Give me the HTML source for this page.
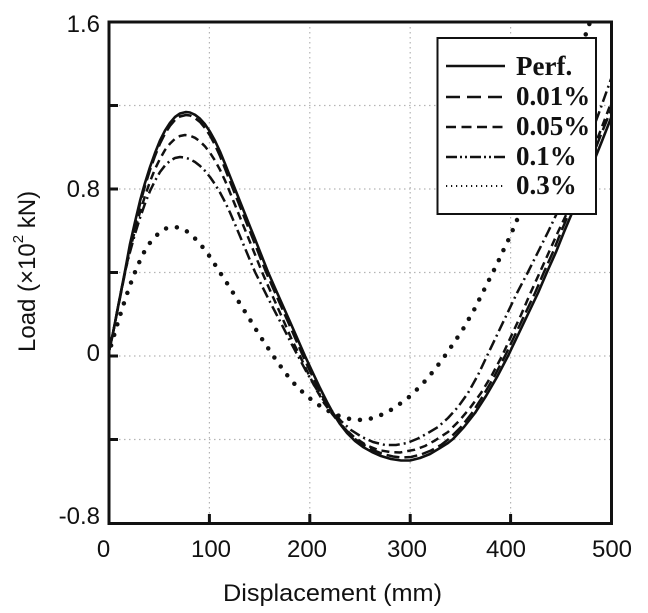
<!DOCTYPE html>
<html>
<head>
<meta charset="utf-8">
<style>
  html,body{margin:0;padding:0;background:#fff;}
  svg{display:block;}
  .tick{font-family:"Liberation Sans",Arial,sans-serif;font-size:24px;fill:#111;}
  .leg{font-family:"Liberation Serif","Times New Roman",serif;font-size:27px;font-weight:bold;fill:#111;}
</style>
</head>
<body>
<svg width="648" height="613" viewBox="0 0 648 613" xmlns="http://www.w3.org/2000/svg">
  <rect width="648" height="613" fill="#fff"/>
  <defs>
    <clipPath id="pa"><rect x="109" y="22" width="502" height="501"/></clipPath>
  </defs>

  <!-- grid -->
  <g stroke="#b4b4b4" stroke-width="1.2" stroke-dasharray="1.5 3.5" fill="none">
    <line x1="109" y1="105.5" x2="611" y2="105.5"/>
    <line x1="109" y1="189" x2="611" y2="189"/>
    <line x1="109" y1="272.5" x2="611" y2="272.5"/>
    <line x1="109" y1="356" x2="611" y2="356"/>
    <line x1="109" y1="439.5" x2="611" y2="439.5"/>
    <line x1="209.4" y1="22" x2="209.4" y2="523"/>
    <line x1="309.8" y1="22" x2="309.8" y2="523"/>
    <line x1="410.2" y1="22" x2="410.2" y2="523"/>
    <line x1="510.6" y1="22" x2="510.6" y2="523"/>
  </g>

  <g clip-path="url(#pa)" fill="none" stroke="#111" stroke-linejoin="round">
    <!-- 0.3% dotted -->
    <polyline stroke-width="4.5" stroke-linecap="round" stroke-dasharray="0 11" points="108,356 113,339 118,322 123,306 128,291 133,277 138,265 143,254 149,244 155,237 161,231 167,228 173,227 179,227.5 185,230 191,234.5 197,240.5 203,247.5 209,255.5 214,263 219,271 225,280 231,289.5 237,299 243,308.5 249,318 255,328 261,337.5 267,346.5 273,355.5 280,365.5 287,375 295,384.5 304,393.5 313,401 323,408 333,413.5 342,417 352,419.5 362,420 371,418.5 380,415.5 390,410.5 399,404.5 409,397 418,388.5 427,379 435,369 442,360 449,350 455,341 462,331 467,322 473,312 478,302 483,292 488,282 493,272 498,262 502,253 507,243 511,234 515,225 519,215 528,192 540,161 552,129 564,96 576,62 588,28 592,16"/>
    <!-- 0.1% dash-dot -->
    <polyline stroke-width="2.5" stroke-dasharray="11 4 2 4" points="108,356 113,333 118,307 125,272 130,252 135,234 140,218 145,203.6 150,191 155,180.8 160,172 165,165.5 170,160.8 175,158 180,157 185,157.6 190,159.2 195,162 200,165.9 205,170.9 210,177 215,184.2 220,192.5 225,202 230,212.5 234,221.8 240,236.2 245,248.2 250,260.2 255,272 262,286 269,300 276,313.5 283,327 290,341 298,356 306,371 314,385 322,398 331,410 341,421 351,430 362,437 373,442 385,445 396,445 407,443 418,438.5 428,433 438,427 448,418 458,407 468,393 478,375 487,356 497,335 507,314 517,293 528,272 538,252 548,232 557,213 568,189 579,164 590,137 600,110 611,79 615,67"/>
    <!-- 0.05% short dash -->
    <polyline stroke-width="2.5" stroke-dasharray="8 5" points="108,356 113,333 118,307 125,272 130,250 135,230 140,212 145,196 150,181.6 155,169 160,158.8 165,150 170,143.6 175,138.8 180,136 185,135 190,135.7 195,137.8 200,141.4 205,146.4 210,152.8 215,160.6 220,169.8 225,180.5 229,190 235,204.9 240,217.3 245,229.7 250,242 256,257 262,272 269,288 277,306 285,324 292,340 300,356 308,373 316,389 324,403 333,415 343,427 354,437 366,445 378,450 390,452 400,452.5 415,449.7 425,446 435,440.5 448,432 459,421 470,408 481,393 492,375 502,356 511,336.5 521,315 530,294 540,272 549,252 558,232 567,213 578,187 589,160 600,132 611,103 615,93"/>
    <!-- 0.01% long dash -->
    <polyline stroke-width="2.5" stroke-dasharray="13 5" points="108,356 113,333 118,308 125,273 130,247 135,225 140,204 145,186 150,170 155,156 160,143.5 165,133.6 170,125.8 175,120 180,116.5 186,115 190,115.5 195,118 200,122 205,128 210,135.5 215,145 220,156 224,166 228,176.3 233,188.9 238,201.5 243,214 248,226.6 253,239 258,251.7 266,272 273,288 281,306 289,324 296,340 303,356 310,371 318,388 325,401 332,412 339,422 347,431 355,439 364,445 373,450 383,454 393,456.5 402,457.5 411,457 421,454.5 431,450.5 441,445 450,438 461,427 472,413 483,396 494,377 505,356 515,335 525,314 535,293 544,272 553,252 561,232 569,213 579,190 589,165 600,137 611,110 615,100"/>
    <!-- Perf. solid -->
    <polyline stroke-width="2.6" points="108,356 113,333 118,307 125,271 130,244 135,222 140,201 143,190 145,183 150,167 155,153 160,140.5 165,130.6 170,122.8 175,117 180,113.5 186,112 190,112.5 195,114.8 200,118.7 205,124.3 210,131.7 215,140.8 220,151.5 225,163.8 230,176.3 235,188.9 240,201.5 245,214 250,226.6 255,239 260,251.7 268,272 275,288 283,306 291,324 298,340 305,356 312,371 320,388 327,402 333,413 340,424 347,433 355,441 363,447 372,452 381,456 391,459 401,460.5 410,460.5 420,458 430,454 440,448 448,443 453,439 464,427 475,413 486,396 497,377 508,356 518,335 528,314 538,293 547,272 556,252 564,232 572,213 582,190 592,166 602,141 611,118 615,108"/>
  </g>

  <!-- axes frame -->
  <rect x="109" y="22" width="502.5" height="501.5" fill="none" stroke="#111" stroke-width="3"/>
  <!-- ticks -->
  <g stroke="#111" stroke-width="3">
    <line x1="109" y1="105.5" x2="118" y2="105.5"/>
    <line x1="109" y1="189" x2="118" y2="189"/>
    <line x1="109" y1="272.5" x2="118" y2="272.5"/>
    <line x1="109" y1="356" x2="118" y2="356"/>
    <line x1="109" y1="439.5" x2="118" y2="439.5"/>
    <line x1="209.4" y1="523" x2="209.4" y2="514"/>
    <line x1="309.8" y1="523" x2="309.8" y2="514"/>
    <line x1="410.2" y1="523" x2="410.2" y2="514"/>
    <line x1="510.6" y1="523" x2="510.6" y2="514"/>
  </g>

  <!-- y tick labels -->
  <g class="tick" text-anchor="end">
    <text x="100" y="32">1.6</text>
    <text x="100" y="197">0.8</text>
    <text x="100" y="361">0</text>
    <text x="100" y="524">-0.8</text>
  </g>
  <!-- x tick labels -->
  <g class="tick" text-anchor="middle">
    <text x="103.5" y="557">0</text>
    <text x="211" y="557">100</text>
    <text x="307" y="557">200</text>
    <text x="407" y="557">300</text>
    <text x="506" y="557">400</text>
    <text x="612" y="557">500</text>
  </g>

  <!-- axis titles -->
  <text class="tick" x="223" y="601" textLength="219" lengthAdjust="spacingAndGlyphs">Displacement (mm)</text>
  <text class="tick" transform="translate(35,352) rotate(-90)">Load (×10<tspan font-size="15" dy="-12">2</tspan><tspan dy="12"> kN)</tspan></text>

  <!-- legend -->
  <rect x="437.5" y="38" width="158.5" height="176" fill="#fff" stroke="#111" stroke-width="2"/>
  <g stroke="#111" fill="none">
    <line x1="446" y1="66" x2="505" y2="66" stroke-width="2.6"/>
    <line x1="446" y1="97" x2="505" y2="97" stroke-width="2.6" stroke-dasharray="14 7"/>
    <line x1="446" y1="127" x2="505" y2="127" stroke-width="2.6" stroke-dasharray="10 5.5"/>
    <line x1="446" y1="157" x2="505" y2="157" stroke-width="2.6" stroke-dasharray="11 3 2 3 2 3"/>
    <line x1="446" y1="186" x2="505" y2="186" stroke-width="2" stroke-dasharray="1.2 3.8"/>
  </g>
  <g class="leg">
    <text x="516" y="75">Perf.</text>
    <text x="516" y="105">0.01%</text>
    <text x="516" y="135">0.05%</text>
    <text x="516" y="165">0.1%</text>
    <text x="516" y="194">0.3%</text>
  </g>
</svg>
</body>
</html>
